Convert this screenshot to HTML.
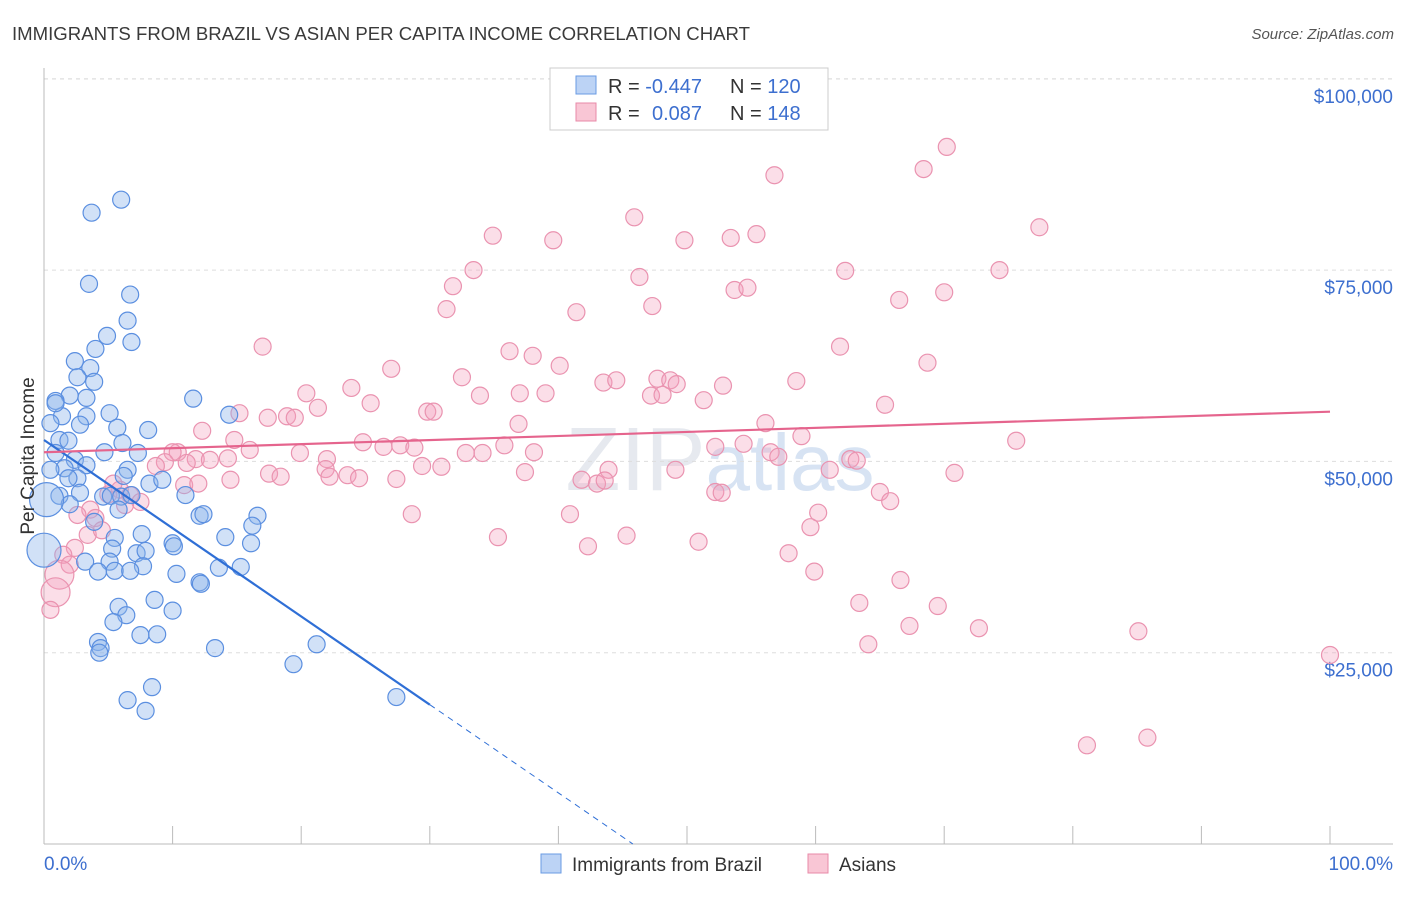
<!DOCTYPE html>
<html><head><meta charset="utf-8"><style>
body{margin:0;background:#fff;font-family:"Liberation Sans",sans-serif;}
svg text{font-family:"Liberation Sans",sans-serif;}
</style></head><body>
<svg id="chart" width="1406" height="892" viewBox="0 0 1406 892">
<text x="12" y="40" font-size="18.6" fill="#3a3a3a">IMMIGRANTS FROM BRAZIL VS ASIAN PER CAPITA INCOME CORRELATION CHART</text>
<text x="1394" y="39" font-size="15" fill="#555" font-style="italic" text-anchor="end">Source: ZipAtlas.com</text>
<text x="720" y="490" font-size="90" fill="#e6e9ef" text-anchor="middle" font-family="Liberation Serif">ZIP<tspan fill="#d7e3f3" font-family="Liberation Sans" font-size="80">atlas</tspan></text>
<g id="grid"></g>
<g id="axes"></g>
<g id="pts"></g>
<g id="trend"></g>
<text transform="translate(34,456) rotate(-90)" font-size="19" fill="#333" text-anchor="middle">Per Capita Income</text>
<text x="44" y="870" font-size="19" fill="#3d6fcf">0.0%</text>
<text x="1393" y="870" font-size="19" fill="#3d6fcf" text-anchor="end">100.0%</text>
<g>
<rect x="550" y="68" width="278" height="62" fill="#fff" stroke="#ccc"/>
<rect x="576" y="76" width="20" height="18" fill="#bcd3f5" stroke="#6a9be3"/>
<rect x="576" y="103" width="20" height="18" fill="#f9c6d5" stroke="#e88aa8"/>
<text x="608" y="93" font-size="20" fill="#333">R = <tspan fill="#3d6fcf">-0.447</tspan><tspan x="730">N = </tspan><tspan fill="#3d6fcf">120</tspan></text>
<text x="608" y="120" font-size="20" fill="#333">R = <tspan fill="#3d6fcf" x="652">0.087</tspan><tspan x="730">N = </tspan><tspan fill="#3d6fcf">148</tspan></text>
</g>
<g>
<rect x="541" y="854" width="20" height="19" fill="#bcd3f5" stroke="#6a9be3"/>
<text x="572" y="871" font-size="19" fill="#333">Immigrants from Brazil</text>
</g>
<g>
<rect x="808" y="854" width="20" height="19" fill="#f9c6d5" stroke="#e88aa8"/>
<text x="839" y="871" font-size="19" fill="#333">Asians</text>
</g>
</svg>
<script>
const yTicks=[25000,50000,75000,100000];
const yTickLabels=["$25,000","$50,000","$75,000","$100,000"];
const xTicks=[0,10,20,30,40,50,60,70,80,90,100];
const blueX=[3.7,6.0,3.5,6.7,6.5,6.8,4.9,4.0,2.4,3.6,2.6,3.9,2.0,0.9,3.3,5.1,1.4,3.3,0.5,2.8,1.2,5.7,1.9,6.1,8.1,11.6,14.4,7.3,4.7,0.9,2.4,1.6,3.3,2.6,1.9,6.5,6.2,8.2,9.2,1.2,2.8,4.6,5.2,6.0,6.8,11.0,2.0,5.8,3.9,12.1,12.4,16.6,16.2,5.5,7.6,14.1,16.1,10.0,10.1,5.3,7.2,7.9,3.2,5.1,7.7,4.2,5.5,6.7,10.3,13.6,15.3,12.1,12.2,8.6,10.0,5.8,6.4,5.4,7.5,8.8,4.2,4.4,4.3,13.3,21.2,19.4,8.4,6.5,7.9,27.4,0.9,0.5,0.2,0.0];
const blueY=[82.5,84.2,73.2,71.8,68.4,65.6,66.4,64.7,63.1,62.2,61.0,60.4,58.6,57.9,58.3,56.3,55.9,55.9,55.0,54.8,52.8,54.4,52.7,52.4,54.1,58.2,56.1,51.1,51.2,51.1,50.2,49.1,49.5,47.8,47.8,48.9,48.1,47.1,47.6,45.5,45.9,45.4,45.5,45.4,45.6,45.6,44.4,43.7,42.1,42.9,43.1,42.9,41.6,40.0,40.5,40.1,39.3,39.3,38.9,38.6,38.0,38.3,36.9,36.9,36.3,35.6,35.7,35.7,35.3,36.1,36.2,34.2,34.0,31.9,30.5,31.0,29.9,29.0,27.3,27.4,26.4,25.6,25.0,25.6,26.1,23.5,20.5,18.8,17.4,19.2,57.6,48.9,45.0,38.4];
const blueW=blueX.map((_,i)=>i>=blueX.length-2?2:1);
const pinkX=[70.2,68.4,56.8,77.4,45.9,34.9,39.6,49.8,53.4,55.4,33.4,31.8,46.3,47.3,53.7,54.7,62.3,66.5,70.0,74.3,41.4,31.3,17.0,27.0,36.2,38.0,40.1,61.9,68.7,32.5,20.4,23.9,43.5,44.5,47.7,48.7,49.2,58.5,37.0,39.0,33.9,21.3,25.4,29.8,30.3,47.2,48.1,51.3,52.8,65.4,56.1,58.9,36.9,15.2,17.4,18.9,19.5,12.3,14.8,10.4,10.0,16.0,19.9,24.8,26.4,27.7,28.8,32.8,34.1,35.8,38.1,52.2,54.4,56.5,57.1,62.7,11.8,12.9,14.3,9.4,11.1,8.7,22.0,21.9,17.5,18.4,22.2,23.6,24.5,27.4,29.4,30.9,37.4,43.9,49.1,61.1,63.2,70.8,75.6,10.9,12.0,14.5,41.8,43.0,43.6,52.2,52.7,65.0,65.8,60.2,59.6,40.9,28.6,35.3,42.3,45.3,50.9,57.9,59.9,66.6,63.4,69.5,67.3,72.7,85.1,64.1,100,81.1,85.8,5.9,6.7,5.0,3.6,2.6,4.0,3.4,4.5,2.4,1.5,2.0,1.2,0.9,0.5,5.4,7.5,6.3];
const pinkY=[91.1,88.2,87.4,80.6,81.9,79.5,78.9,78.9,79.2,79.7,75.0,72.9,74.1,70.3,72.4,72.7,74.9,71.1,72.1,75.0,69.5,69.9,65.0,62.1,64.4,63.8,62.5,65.0,62.9,61.0,58.9,59.6,60.3,60.6,60.8,60.6,60.1,60.5,58.9,58.9,58.6,57.0,57.6,56.5,56.5,58.6,58.7,58.0,59.9,57.4,55.0,53.3,54.9,56.3,55.7,55.9,55.7,54.0,52.8,51.2,51.2,51.5,51.1,52.5,51.9,52.1,51.8,51.1,51.1,52.1,51.2,51.9,52.3,51.2,50.6,50.3,50.3,50.2,50.4,49.9,49.8,49.4,50.3,49.0,48.4,48.0,48.0,48.2,47.8,47.7,49.4,49.3,48.6,48.9,48.9,48.9,50.1,48.5,52.7,46.9,47.1,47.6,47.6,47.1,47.5,46.0,45.9,46.0,44.8,43.3,41.4,43.1,43.1,40.1,38.9,40.3,39.5,38.0,35.6,34.5,31.5,31.1,28.5,28.2,27.8,26.1,24.7,12.9,13.9,46.3,45.6,45.7,43.7,43.0,42.6,40.4,41.0,38.7,37.8,36.5,35.2,32.9,30.6,47.1,44.7,44.3];
const pinkW=pinkX.map((x,i)=>(i===pinkX.length-6||i===pinkX.length-5)?1.7:1);
const blueTrend=[52.8,-1.153];
const pinkTrend=[51.2,0.053];
const blueSolidEnd=30;

const NS="http://www.w3.org/2000/svg";
const X0=44,X1=1330,Y0=844,YPER=7.652/1000;
const sx=p=>X0+(X1-X0)*p/100;
const sy=v=>Y0-v*YPER;
function mk(t,a,parent){const e=document.createElementNS(NS,t);for(const k in a)e.setAttribute(k,a[k]);parent.appendChild(e);return e;}
const grid=document.getElementById('grid'),axes=document.getElementById('axes'),pts=document.getElementById('pts'),trend=document.getElementById('trend');
yTicks.forEach((v,i)=>{
  const l=mk('line',{x1:X0,x2:1393,y1:sy(v),y2:sy(v),stroke:'#ddd','stroke-dasharray':'4,4'},grid);
  
  
  const t=mk('text',{x:1393,y:sy(v)+24,'font-size':19,fill:'#3d6fcf','text-anchor':'end'},grid);
  t.textContent=yTickLabels[i];
  
  
});
const topGrid=mk('line',{x1:X0,x2:1393,y1:79,y2:79,stroke:'#ddd','stroke-dasharray':'4,4'},grid);


const ya=mk('line',{x1:X0,x2:X0,y1:68,y2:Y0,stroke:'#bbb'},axes);


const xa=mk('line',{x1:X0,x2:1393,y1:Y0,y2:Y0,stroke:'#bbb'},axes);


xTicks.forEach(p=>{
  const t=mk('line',{x1:sx(p),x2:sx(p),y1:826,y2:Y0,stroke:'#bbb'},axes);
  
  
});
function dots(X,Y,W,fill,stroke,name){
  X.forEach((x,i)=>{
    const c=mk('circle',{cx:sx(x),cy:sy(Y[i]*1000),r:8.5*W[i],fill:fill,stroke:stroke,'stroke-width':1.2},pts);
    
    
  });
}
dots(pinkX,pinkY,pinkW,'rgba(244,160,188,0.35)','#ea93b0','asians-point');
dots(blueX,blueY,blueW,'rgba(140,180,235,0.4)','#5b8fe0','brazil-point');
const bf=p=>(blueTrend[0]+blueTrend[1]*p)*1000;
const bZero=-blueTrend[0]/blueTrend[1];
const b1=mk('line',{x1:sx(0),y1:sy(bf(0)),x2:sx(blueSolidEnd),y2:sy(bf(blueSolidEnd)),stroke:'#2f6fd6','stroke-width':2.2},trend);


const b2=mk('line',{x1:sx(blueSolidEnd),y1:sy(bf(blueSolidEnd)),x2:sx(bZero),y2:sy(0),stroke:'#2f6fd6','stroke-width':1,'stroke-dasharray':'6,5'},trend);


const pf=p=>(pinkTrend[0]+pinkTrend[1]*p)*1000;
const p1=mk('line',{x1:sx(0),y1:sy(pf(0)),x2:sx(100),y2:sy(pf(100)),stroke:'#e5648d','stroke-width':2.2},trend);


</script>
</body></html>
